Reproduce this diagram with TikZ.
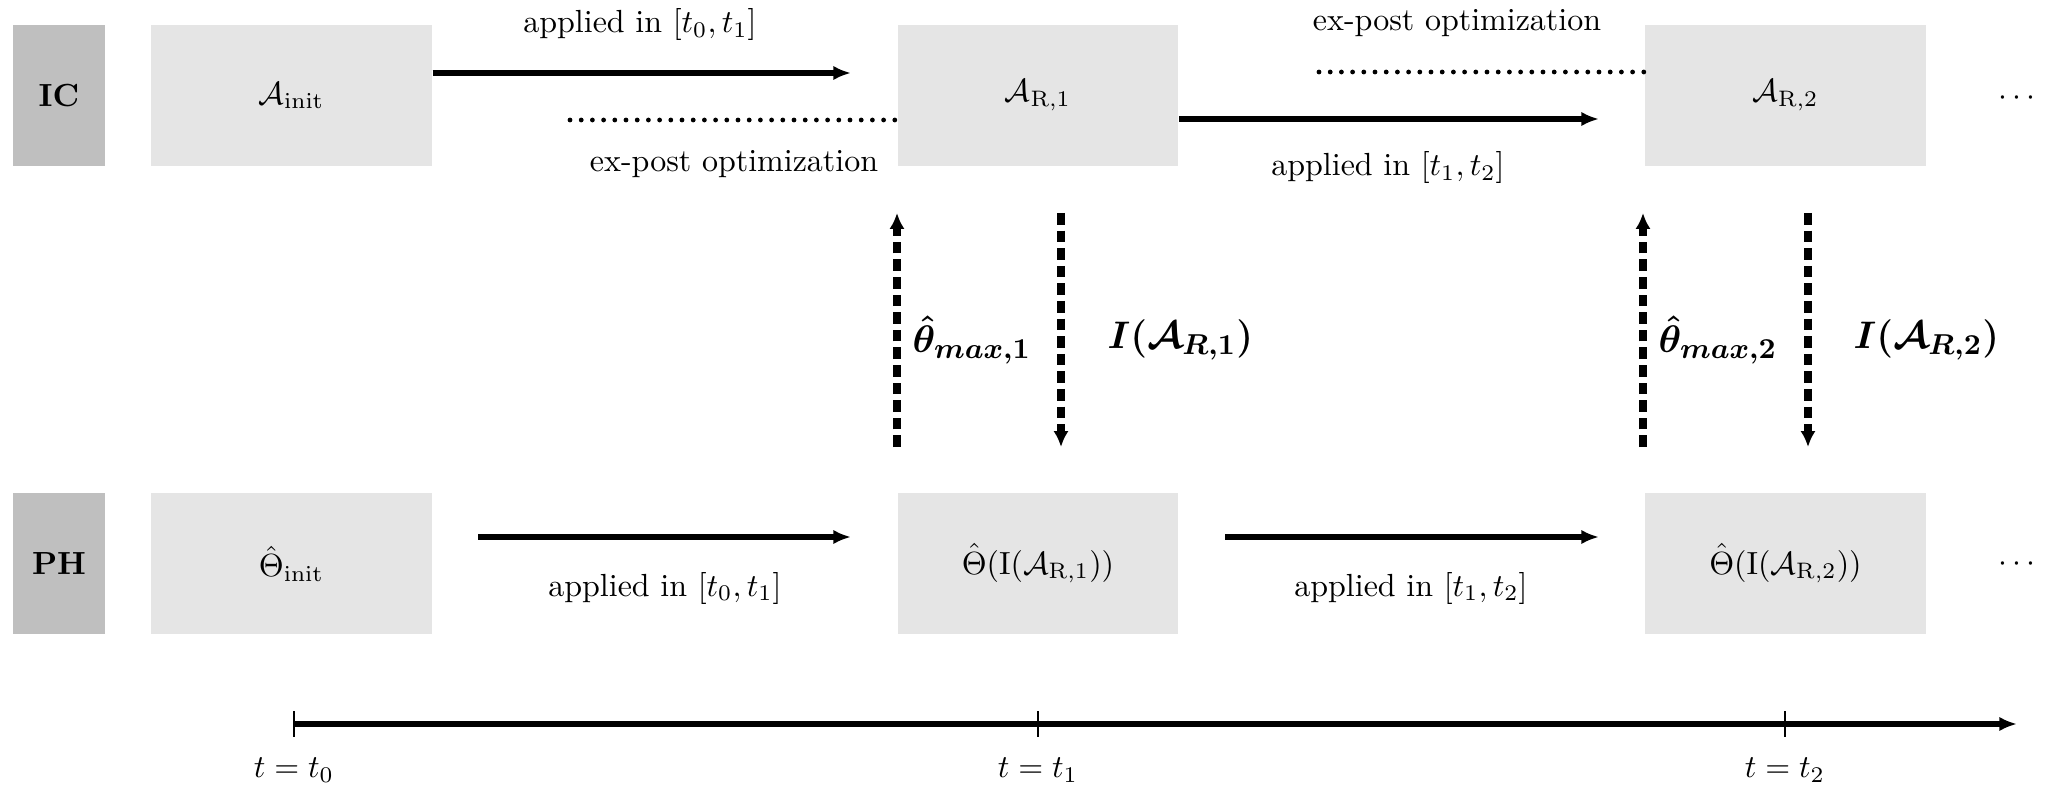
\documentclass[tikz,border=0pt]{standalone}
\usepackage{bm}
\usetikzlibrary{arrows.meta}
\begin{document}
\begin{tikzpicture}[x=0.3125pt,y=-0.3125pt,
  lab/.style={fill=black!25, minimum width=28.75pt, minimum height=44.06pt, inner sep=0pt, font=\bfseries},
  box/.style={fill=black!10, minimum width=87.8pt, minimum height=44.06pt, inner sep=0pt},
  harrow/.style={line width=1.7pt, -{Latex[length=5.5pt,width=4.5pt]}},
  dotline/.style={line width=1.5pt, dash pattern=on 0pt off 3.5pt, line cap=round},
  varrow/.style={line width=2.5pt, dash pattern=on 3.6pt off 1.9pt, -{Latex[length=5pt,width=4.8pt]}},
  tickline/.style={line width=0.8pt},
  big/.style={font=\fontsize{12.4}{15}\selectfont, inner sep=0pt, anchor=west}]
\useasboundingbox (0,0) rectangle (2047,789);

% top row
\node[lab] (ic) at (59,95.5) {IC};
\node[box] (ainit) at (291.5,95.5) {$\mathcal{A}_{\mathrm{init}}$};
\node[box] (ar1) at (1038,95.5) {$\mathcal{A}_{\mathrm{R},1}$};
\node[box] (ar2) at (1785.5,95.5) {$\mathcal{A}_{\mathrm{R},2}$};
\node (dtop) at (2017,98) {$\cdots$};

% bottom row
\node[lab] (ph) at (59,563.5) {PH};
\node[box] (thinit) at (291.5,563.5) {$\hat\Theta_{\mathrm{init}}$};
\node[box] (th1) at (1038,563.5) {$\hat\Theta(\mathrm{I}(\mathcal{A}_{\mathrm{R},1}))$};
\node[box] (th2) at (1785.5,563.5) {$\hat\Theta(\mathrm{I}(\mathcal{A}_{\mathrm{R},2}))$};
\node (dbot) at (2017,564) {$\cdots$};

% top connectors
\coordinate (a1e) at (851,73);
\draw[harrow] (ainit.east |- a1e) -- (a1e);
\node (l1) at (640,25) {applied in $[t_0,t_1]$};
\coordinate (d1s) at (570,120);
\draw[dotline] (d1s) -- (ar1.west |- d1s);
\node (e1) at (734,164) {ex-post optimization};
\coordinate (a2e) at (1599,119);
\draw[harrow] (ar1.east |- a2e) -- (a2e);
\node (l2) at (1388,168) {applied in $[t_1,t_2]$};
\coordinate (d2s) at (1319,72);
\draw[dotline] (d2s) -- (ar2.west |- d2s);
\node (e2) at (1457,23) {ex-post optimization};

% bottom connectors
\coordinate (b1s) at (478,537);
\coordinate (b1e) at (851,537);
\draw[harrow] (b1s) -- (b1e);
\node (l3) at (665,588) {applied in $[t_0,t_1]$};
\coordinate (b2s) at (1225,537);
\coordinate (b2e) at (1599,537);
\draw[harrow] (b2s) -- (b2e);
\node (l4) at (1411,588) {applied in $[t_1,t_2]$};

% vertical dashed arrows
\coordinate (u1b) at (897,447);
\coordinate (u1t) at (897,213);
\draw[varrow] (u1b) -- (u1t);
\coordinate (v1t) at (1061,213);
\coordinate (v1b) at (1061,447);
\draw[varrow] (v1t) -- (v1b);
\node[big] (th1lab) at (912,340) {$\bm{\hat\theta_{max,1}}$};
\node[big] (i1lab) at (1107,340) {$\bm{I(\mathcal{A}_{R,1})}$};

\coordinate (u2b) at (1643,447);
\coordinate (u2t) at (1643,213);
\draw[varrow] (u2b) -- (u2t);
\coordinate (v2t) at (1808,213);
\coordinate (v2b) at (1808,447);
\draw[varrow] (v2t) -- (v2b);
\node[big] (th2lab) at (1658,340) {$\bm{\hat\theta_{max,2}}$};
\node[big] (i2lab) at (1853,340) {$\bm{I(\mathcal{A}_{R,2})}$};

% timeline
\coordinate (t0) at (294,724);
\coordinate (t1) at (1038,724);
\coordinate (t2) at (1785,724);
\coordinate (tend) at (2017,724);
\draw[harrow] (t0) -- (tend);
\draw[tickline] ([yshift=4pt]t0) -- ([yshift=-4pt]t0);
\draw[tickline] ([yshift=4pt]t1) -- ([yshift=-4pt]t1);
\draw[tickline] ([yshift=4pt]t2) -- ([yshift=-4pt]t2);
\node (tl0) at (294,770) {$t=t_0$};
\node (tl1) at (1038,770) {$t=t_1$};
\node (tl2) at (1785,770) {$t=t_2$};
\end{tikzpicture}
\end{document}
